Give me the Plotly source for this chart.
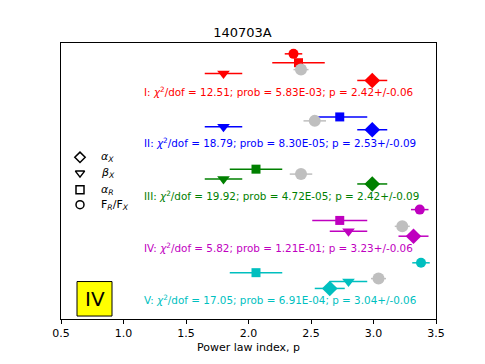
import plotly.graph_objects as go

# ---- data ----
groups = ["I", "II", "III", "IV", "V"]
colors = ["#ff0000", "#0000ff", "#008000", "#bf00bf", "#00bfbf"]
chi2 = [12.51, 18.79, 19.92, 5.82, 17.05]
prob = ["5.83E-03", "8.30E-05", "4.72E-05", "1.21E-01", "6.91E-04"]
p_val = [2.42, 2.53, 2.42, 3.23, 3.04]
p_err = [0.06, 0.09, 0.09, 0.06, 0.06]

alphaX = [2.99, 2.99, 2.99, 3.32, 2.65]
alphaX_err = [0.12, 0.12, 0.12, 0.12, 0.12]
betaX = [1.80, 1.80, 1.80, 2.80, 2.80]
betaX_err = [0.15, 0.15, 0.15, 0.15, 0.15]
alphaR = [2.40, 2.73, 2.06, 2.73, 2.06]
alphaR_err = [0.21, 0.22, 0.21, 0.22, 0.21]
fluxr = [2.36, None, None, 3.37, 3.38]
fluxr_err = [0.07, None, None, 0.07, 0.07]

title = "140703A"
xlabel = "Power law index, p"
xticks = [0.5, 1.0, 1.5, 2.0, 2.5, 3.0, 3.5]
box_label = "IV"

# ---- vertical layout of rows (plot pixels from top) ----
row_circle = [11, None, None, 169, 223]
row_square = [20, 75, 128, 180, 233]
row_gray = [27, 79, 133, 186, 239]
row_tri = [31, 85, 138, 191, 242]
row_diam = [38, 88, 143, 196, 249]
row_text = [49, 101, 155, 207, 260]

fig = go.Figure()

def add_pt(x, err, y, color, symbol, size):
    fig.add_trace(go.Scatter(
        x=[x], y=[y], mode="markers",
        marker=dict(symbol=symbol, size=size, color=color, line=dict(width=0)),
        error_x=dict(type="data", array=[err], color=color, thickness=1.5, width=0),
        showlegend=False, hoverinfo="skip"))

for i, g in enumerate(groups):
    c = colors[i]
    if fluxr[i] is not None:
        add_pt(fluxr[i], fluxr_err[i], row_circle[i], c, "circle", 10)
    add_pt(alphaR[i], alphaR_err[i], row_square[i], c, "square", 9)
    add_pt(p_val[i], p_err[i], row_gray[i], "#bfbfbf", "circle", 12)
    add_pt(betaX[i], betaX_err[i], row_tri[i], c, "triangle-down", 11)
    add_pt(alphaX[i], alphaX_err[i], row_diam[i], c, "diamond", 12)
    fig.add_annotation(
        x=1.15, y=row_text[i], xref="x", yref="y", xanchor="left", yanchor="middle",
        text=f"{g}: <i>χ</i><sup>2</sup>/dof = {chi2[i]:.2f}; prob = {prob[i]}; p = {p_val[i]:.2f}+/-{p_err[i]:.2f}",
        showarrow=False, font=dict(color=c, size=10.4))

# legend (drawn manually)
leg_syms = ["diamond-open", "triangle-down-open", "square-open", "circle-open"]
leg_txt = ["<i>α</i><sub><i>X</i></sub>", "<i>β</i><sub><i>X</i></sub>",
           "<i>α</i><sub><i>R</i></sub>", "F<sub><i>R</i></sub>/F<sub><i>X</i></sub>"]
leg_rows = [116, 132, 149, 164]
for s, t, y in zip(leg_syms, leg_txt, leg_rows):
    fig.add_trace(go.Scatter(x=[0.652], y=[y], mode="markers",
                             marker=dict(symbol=s, size=8, color="black", line=dict(width=1.5, color="black")),
                             showlegend=False, hoverinfo="skip"))
    fig.add_annotation(x=0.80, y=y, xref="x", yref="y", xanchor="left", yanchor="middle",
                       text=t, showarrow=False, font=dict(color="black", size=11))

# IV box
fig.add_shape(type="rect", xref="x", yref="y", x0=0.628, x1=0.908, y0=242, y1=277,
              fillcolor="#ffff00", line=dict(color="black", width=1))
fig.add_annotation(x=0.768, y=259.5, xref="x", yref="y", text=box_label, showarrow=False,
                   font=dict(color="black", size=20), xanchor="center", yanchor="middle")

fig.update_layout(
    width=485, height=364,
    margin=dict(l=61, r=49, t=43, b=41),
    paper_bgcolor="white", plot_bgcolor="white",
    font=dict(family="DejaVu Sans", color="black", size=11),
    title=dict(text=title, x=0.5, xanchor="center", y=1 - 32 / 364, yanchor="middle",
               font=dict(size=13)),
    showlegend=False,
)
fig.update_xaxes(range=[0.5, 3.5], tickvals=xticks, ticktext=[f"{v:.1f}" for v in xticks],
                 ticks="outside", ticklen=4, tickcolor="black", showgrid=False, zeroline=False,
                 showline=True, linecolor="black", linewidth=1, mirror=True,
                 tickfont=dict(size=11),
                 title=dict(text=xlabel, font=dict(size=11), standoff=4))
fig.update_yaxes(range=[280, 0], showticklabels=False, ticks="", showgrid=False, zeroline=False,
                 showline=True, linecolor="black", linewidth=1, mirror=True)

fig.write_html("out.html", config={"displayModeBar": False},
               post_script="document.body.style.margin='0';document.body.style.padding='0';"
                           "document.documentElement.style.overflow='hidden';")
